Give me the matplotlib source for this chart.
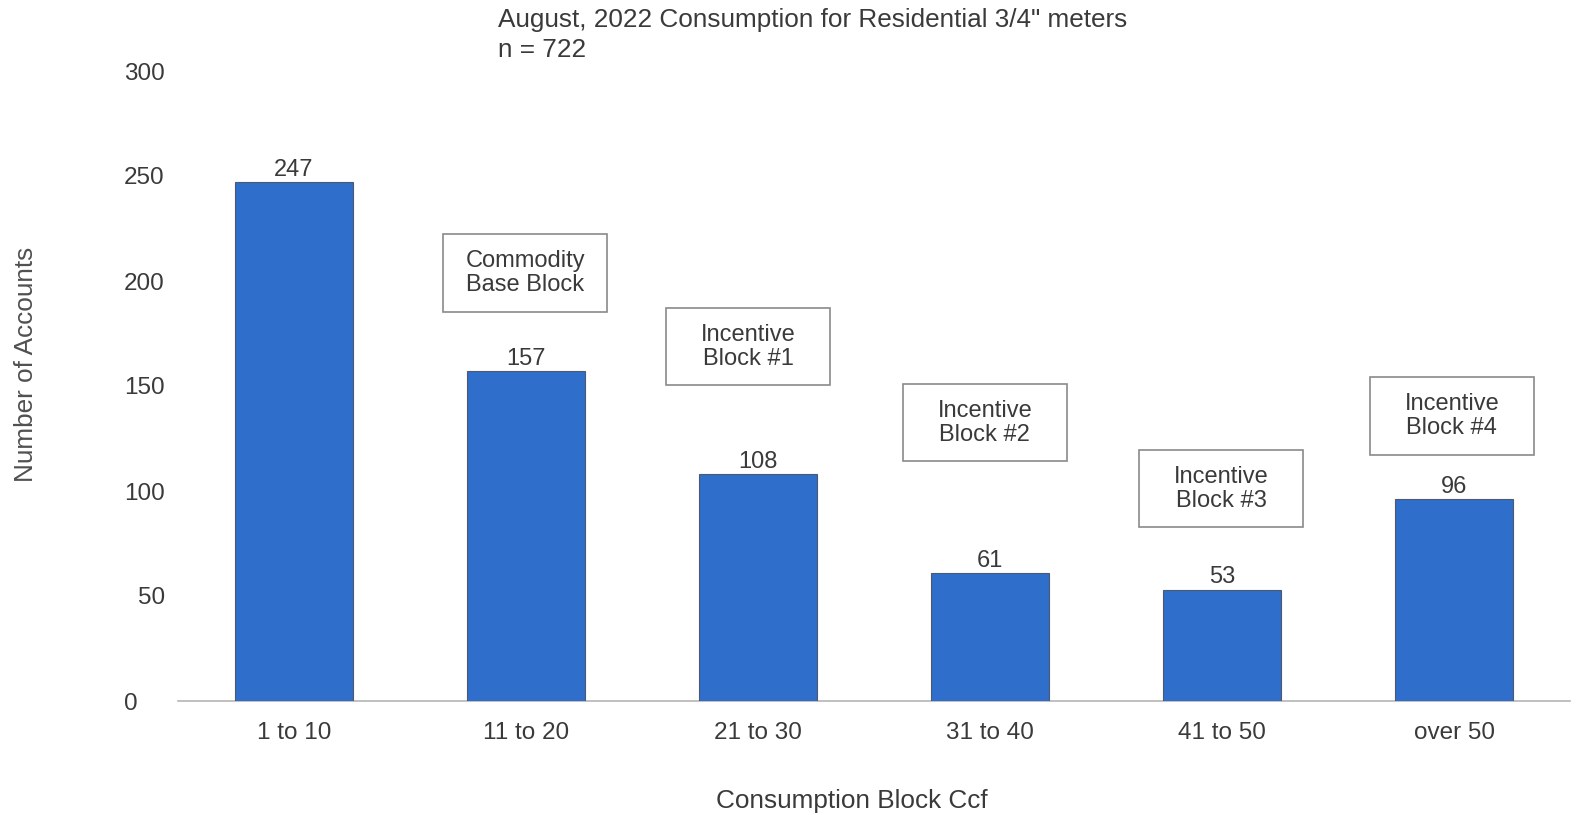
import matplotlib.pyplot as plt
from matplotlib.patches import Rectangle
from matplotlib.transforms import ScaledTranslation

# Datos del gráfico
bloques = ['1 to 10', '11 to 20', '21 to 30', '31 to 40', '41 to 50', 'over 50']
cuentas = [247, 157, 108, 61, 53, 96]

# Etiquetas de los bloques tarifarios
textos_caja = ['Commodity\nBase Block', 'Incentive\nBlock #1', 'Incentive\nBlock #2',
               'Incentive\nBlock #3', 'Incentive\nBlock #4']
centros_caja = [(0.996, 203.8), (1.958, 168.6), (2.978, 132.4), (3.997, 101), (4.991, 135.7)]
tamano_caja = (0.706, 36.7)

plt.rcParams['font.family'] = ['Liberation Sans', 'DejaVu Sans']
gris = '#3a3a3a'

fig = plt.figure(figsize=(15.77, 8.15), dpi=100)
ax = fig.add_axes([178/1577, 1 - 701/815, 1392/1577, 630/815])

x = range(len(bloques))
ax.bar(x, cuentas, width=0.51, color='#2f6ecb', edgecolor='#4b5a6e', linewidth=0.8, zorder=3)

for xi, v in zip(x, cuentas):
    ax.annotate(str(v), (xi, v), xytext=(0, 1), textcoords='offset points',
                ha='center', va='bottom', fontsize=17, color=gris)

w, h = tamano_caja
for texto, (cx, cy) in zip(textos_caja, centros_caja):
    ax.add_patch(Rectangle((cx - w/2, cy - h/2), w, h, facecolor='white',
                           edgecolor='#8a8a8a', linewidth=1.2, zorder=4))
    ax.text(cx, cy, texto, ha='center', va='center', fontsize=17,
            color=gris, linespacing=1.15, zorder=5)

ax.set_xlim(-0.5, 5.5)
ax.set_ylim(0, 300)
ax.set_yticks([0, 50, 100, 150, 200, 250, 300])
ax.set_xticks(list(x))
ax.set_xticklabels(bloques)
ax.tick_params(axis='both', length=0, labelsize=17.5, colors=gris)
ax.tick_params(axis='y', pad=9.5)
ax.tick_params(axis='x', pad=15)

# el cero queda algo más a la izquierda que el resto
etiqueta_cero = ax.get_yticklabels()[0]
etiqueta_cero.set_transform(etiqueta_cero.get_transform() +
                            ScaledTranslation(-27/100, 0, fig.dpi_scale_trans))

for lado in ['top', 'right', 'left']:
    ax.spines[lado].set_visible(False)
ax.spines['bottom'].set_color('#b5b5b5')
ax.spines['bottom'].set_linewidth(1.2)

ax.set_ylabel('Number of Accounts', fontsize=18.8, color='#505050')
ax.yaxis.set_label_coords(-0.1005, 0.535)
ax.set_xlabel('Consumption Block Ccf', fontsize=18.8, color=gris)
ax.xaxis.set_label_coords(0.484, -0.139)

fig.text(498/1577, 1 - 8/815, 'August, 2022 Consumption for Residential 3/4" meters\nn = 722',
         ha='left', va='top', fontsize=18.8, color=gris, linespacing=1.3)

plt.savefig('out.png', dpi=100)
